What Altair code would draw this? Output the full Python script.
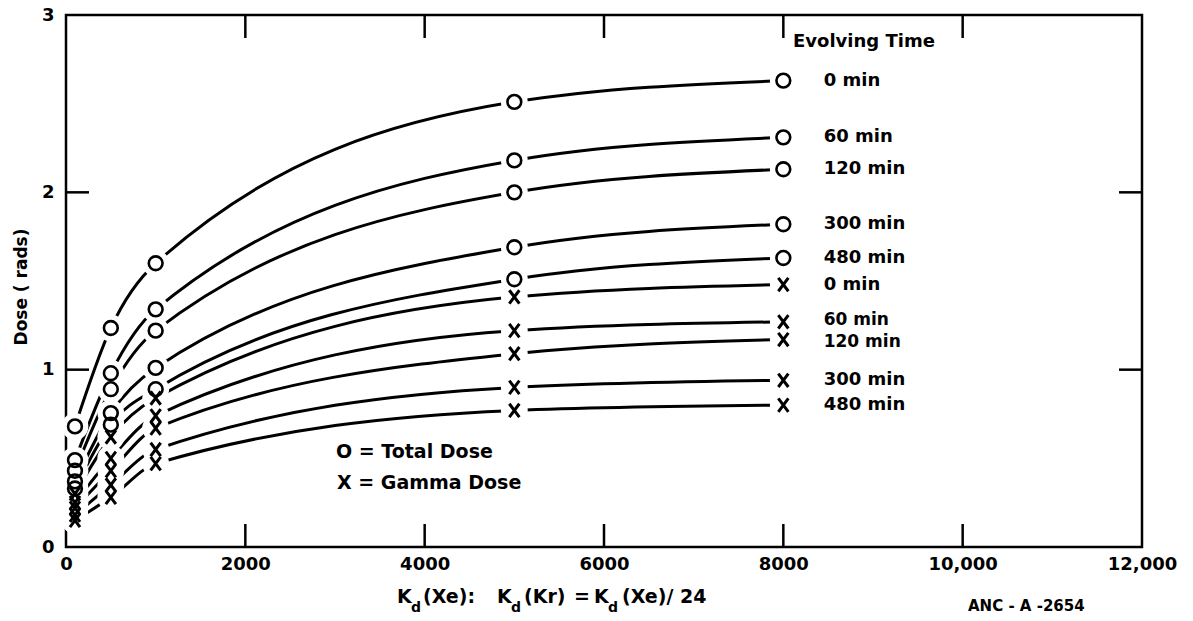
import altair as alt
import pandas as pd

# Decay constant K_d(Xe) at which doses were computed
kd = [100, 500, 1000, 5000, 8000]
# Evolving times (min)
times = [0, 60, 120, 300, 480]

# Total dose (rads), one list per evolving time, in kd order
total_0 = [0.68, 1.235, 1.60, 2.51, 2.63]
total_60 = [0.49, 0.98, 1.34, 2.18, 2.31]
total_120 = [0.43, 0.89, 1.22, 2.00, 2.13]
total_300 = [0.37, 0.755, 1.01, 1.69, 1.82]
total_480 = [0.33, 0.69, 0.89, 1.51, 1.63]

# Gamma dose (rads)
gamma_0 = [0.30, 0.62, 0.84, 1.41, 1.48]
gamma_60 = [0.25, 0.50, 0.74, 1.22, 1.27]
gamma_120 = [0.22, 0.43, 0.67, 1.09, 1.17]
gamma_300 = [0.18, 0.35, 0.55, 0.90, 0.94]
gamma_480 = [0.15, 0.28, 0.47, 0.77, 0.80]

x_ticks = [0, 2000, 4000, 6000, 8000, 10000, 12000]
y_ticks = [0, 1, 2, 3]
inner_x_ticks = [2000, 4000, 6000, 8000, 10000]
inner_y_ticks = [1, 2]

FONT = "DejaVu Sans"
W, H = 1076, 532
TICK = 23

rows = []
for kind, series in (("Total", [total_0, total_60, total_120, total_300, total_480]),
                     ("Gamma", [gamma_0, gamma_60, gamma_120, gamma_300, gamma_480])):
    for t, vals in zip(times, series):
        for k, v in zip(kd, vals):
            rows.append({"kind": kind, "time": t, "series": f"{kind}-{t}", "kd": k, "dose": v})
df = pd.DataFrame(rows)
df_end = df[df["kd"] == kd[-1]].copy()
df_end["label"] = df_end["time"].astype(str) + "  min"
df_end["label_x"] = 8450

xs = alt.Scale(domain=[0, 12000], nice=False, zero=True)
ys = alt.Scale(domain=[0, 3], nice=False)

x_axis = alt.Axis(values=x_ticks, ticks=False, domain=False, grid=False,
                  labelFont=FONT, labelFontSize=18, labelFontWeight="bold", labelColor="black",
                  labelPadding=8, labelFlush=False, title=None,
                  labelExpr="datum.value >= 10000 ? format(datum.value, ',') : format(datum.value, 'd')")
y_axis = alt.Axis(values=y_ticks, ticks=False, domain=False, grid=False,
                  labelFont=FONT, labelFontSize=18, labelFontWeight="bold", labelColor="black",
                  labelPadding=12, labelFlush=False, title=None, format="d")

base = alt.Chart(df)

lines = base.mark_line(color="black", strokeWidth=3, interpolate="monotone").encode(
    x=alt.X("kd:Q", scale=xs, axis=x_axis),
    y=alt.Y("dose:Q", scale=ys, axis=y_axis),
    detail="series:N",
    order="kd:Q",
)

# white discs that open a gap in the curves around each plotted point
halos = base.mark_point(shape="circle", filled=True, color="white", size=720, opacity=1).encode(
    x=alt.X("kd:Q", scale=xs), y=alt.Y("dose:Q", scale=ys)
)

circles = base.transform_filter("datum.kind == 'Total'").mark_point(
    shape="circle", filled=False, color="black", strokeWidth=2.6, size=190, opacity=1
).encode(x=alt.X("kd:Q", scale=xs), y=alt.Y("dose:Q", scale=ys))

crosses = base.transform_filter("datum.kind == 'Gamma'").mark_point(
    shape="M-0.75,-1L0.75,1M0.75,-1L-0.75,1", filled=False, color="black",
    strokeWidth=3, size=180, opacity=1
).encode(x=alt.X("kd:Q", scale=xs), y=alt.Y("dose:Q", scale=ys))


def end_labels(cond, size=18, dy=0):
    return alt.Chart(df_end).transform_filter(cond).mark_text(
        align="left", baseline="middle", font=FONT, fontSize=size, fontWeight="bold",
        color="black", dy=dy
    ).encode(x=alt.X("label_x:Q", scale=xs), y=alt.Y("dose:Q", scale=ys), text="label:N")


# the gamma 60 / 120 min curves end close together, so their labels are nudged apart
labels_main = end_labels("!(datum.kind == 'Gamma' && (datum.time == 60 || datum.time == 120))")
labels_g60 = end_labels("datum.kind == 'Gamma' && datum.time == 60", size=17, dy=-2)
labels_g120 = end_labels("datum.kind == 'Gamma' && datum.time == 120", size=17, dy=2)

# inward tick marks on all four sides
xt = pd.DataFrame({"v": inner_x_ticks})
yt = pd.DataFrame({"v": inner_y_ticks})
bottom_ticks = alt.Chart(xt).mark_rule(color="black", strokeWidth=2.5).encode(
    x=alt.X("v:Q", scale=xs), y=alt.value(H), y2=alt.value(H - TICK))
top_ticks = alt.Chart(xt).mark_rule(color="black", strokeWidth=2.5).encode(
    x=alt.X("v:Q", scale=xs), y=alt.value(0), y2=alt.value(TICK))
left_ticks = alt.Chart(yt).mark_rule(color="black", strokeWidth=2.5).encode(
    y=alt.Y("v:Q", scale=ys), x=alt.value(0), x2=alt.value(TICK))
right_ticks = alt.Chart(yt).mark_rule(color="black", strokeWidth=2.5).encode(
    y=alt.Y("v:Q", scale=ys), x=alt.value(W), x2=alt.value(W - TICK))

one = pd.DataFrame({"a": [0]})


def text(s, x, y, size=18, angle=0, align="left"):
    return alt.Chart(one).mark_text(text=s, align=align, baseline="middle", font=FONT,
                                    fontSize=size, fontWeight="bold", color="black",
                                    angle=angle).encode(x=alt.value(x), y=alt.value(y))


annotations = [
    text("Evolving Time", 727, 27),
    text("O = Total  Dose", 270, 437, size=19),
    text("X = Gamma Dose", 271, 468, size=19),
    text("Dose ( rads)", -44, 272, size=17, angle=270, align="center"),
    # x-axis title with subscripts
    text("K", 331, 582, size=19),
    text("d", 345, 593, size=14),
    text("(Xe):", 357, 582, size=19),
    text("K", 431, 582, size=19),
    text("d", 445, 593, size=14),
    text("(Kr)", 458, 582, size=19),
    text("=", 508, 582, size=19),
    text("K", 528, 582, size=19),
    text("d", 542, 593, size=14),
    text("(Xe)/ 24", 556, 582, size=19),
    text("ANC - A -2654", 902, 591, size=15),
]

chart = alt.layer(
    lines, halos, circles, crosses, labels_main, labels_g60, labels_g120,
    bottom_ticks, top_ticks, left_ticks, right_ticks, *annotations
).properties(
    width=W, height=H,
    autosize=alt.AutoSizeParams(type="none"),
    padding={"left": 66, "top": 15, "right": 51, "bottom": 74},
    background="white",
).configure_view(stroke="black", strokeWidth=2.5)

chart.save("out.html", embed_options={"renderer": "svg", "actions": False})
